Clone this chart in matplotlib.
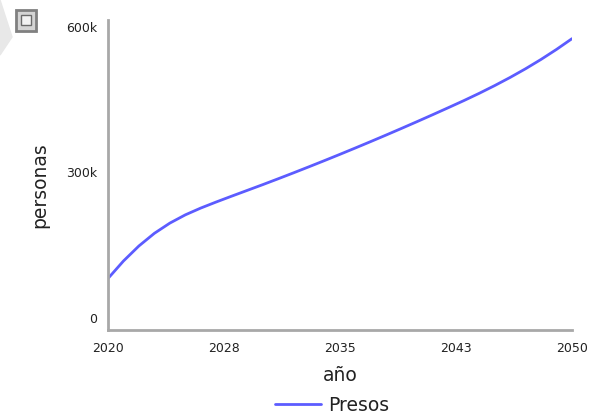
import matplotlib
matplotlib.use("Agg")
import matplotlib.pyplot as plt
from matplotlib.patches import Polygon, Rectangle
from matplotlib.ticker import FuncFormatter

# data (thousands of people)
years = list(range(2020, 2051))
presos_k = [98, 134, 165, 191, 212, 229, 243, 255.5, 267.5, 279.3,
            291.1, 303.2, 315.5, 328, 340.7, 353.6, 366.7, 380, 393.5, 407.2,
            421.1, 435.2, 449.5, 464, 479.1, 495, 511.8, 529.7, 548.9, 569.5, 591.6]
presos = [v * 1000 for v in presos_k]

x_ticks = [2020, 2027.5, 2035, 2042.5, 2050]
y_ticks = [0, 300000, 600000]
y_tick_labels = ["0", "300k", "600k"]

LINE_COLOR = "#5c5cff"
SPINE_COLOR = "#a8a8a8"
TEXT_COLOR = "#222222"

W, H = 594, 416
fig = plt.figure(figsize=(W / 100, H / 100), dpi=100)
ax = fig.add_axes([108 / W, (H - 330) / H, (572 - 108) / W, (330 - 20) / H])

ax.plot(years, presos, color=LINE_COLOR, lw=2, label="Presos",
        solid_capstyle="round")

ax.set_xlim(2020, 2050)
ax.set_ylim(-8000, 630000)

ax.set_xticks(x_ticks)
ax.xaxis.set_major_formatter(FuncFormatter(lambda v, p: f"{int(v + 0.5)}"))
ax.set_yticks(y_ticks)
ax.set_yticklabels(y_tick_labels)
for lab in ax.get_yticklabels():
    lab.set_va("bottom")

ax.tick_params(length=0, labelsize=9, colors=TEXT_COLOR)
ax.tick_params(axis="x", pad=8.5)
ax.tick_params(axis="y", pad=8)

for side in ["top", "right"]:
    ax.spines[side].set_visible(False)
for side in ["left", "bottom"]:
    ax.spines[side].set_color(SPINE_COLOR)
    ax.spines[side].set_linewidth(2)

ax.set_xlabel("año", fontsize=13.5, color=TEXT_COLOR)
ax.xaxis.set_label_coords(0.5, -0.116)
ax.set_ylabel("personas", fontsize=13.5, color=TEXT_COLOR)
ax.yaxis.set_label_coords(-0.127, 0.468)

ax.legend(loc="center", bbox_to_anchor=(0.483, -0.242), frameon=False,
          fontsize=13.5, handlelength=2.45, handletextpad=0.37,
          borderaxespad=0, borderpad=0, labelcolor=TEXT_COLOR)

# little decorations in the top-left corner
fig.patches.append(Polygon([[0, H], [12, H - 37], [0, H - 55]],
                           closed=True, transform=None, color="#e8e8e8", zorder=0))
fig.patches.append(Rectangle((16, H - 31), 20, 21, transform=None,
                             facecolor="#d4d4d4", edgecolor="#808080", lw=2))
fig.patches.append(Rectangle((21, H - 25), 10, 10, transform=None,
                             facecolor="#f2f2f2", edgecolor="#6a6a6a", lw=1))

fig.savefig("out.png", dpi=100)
